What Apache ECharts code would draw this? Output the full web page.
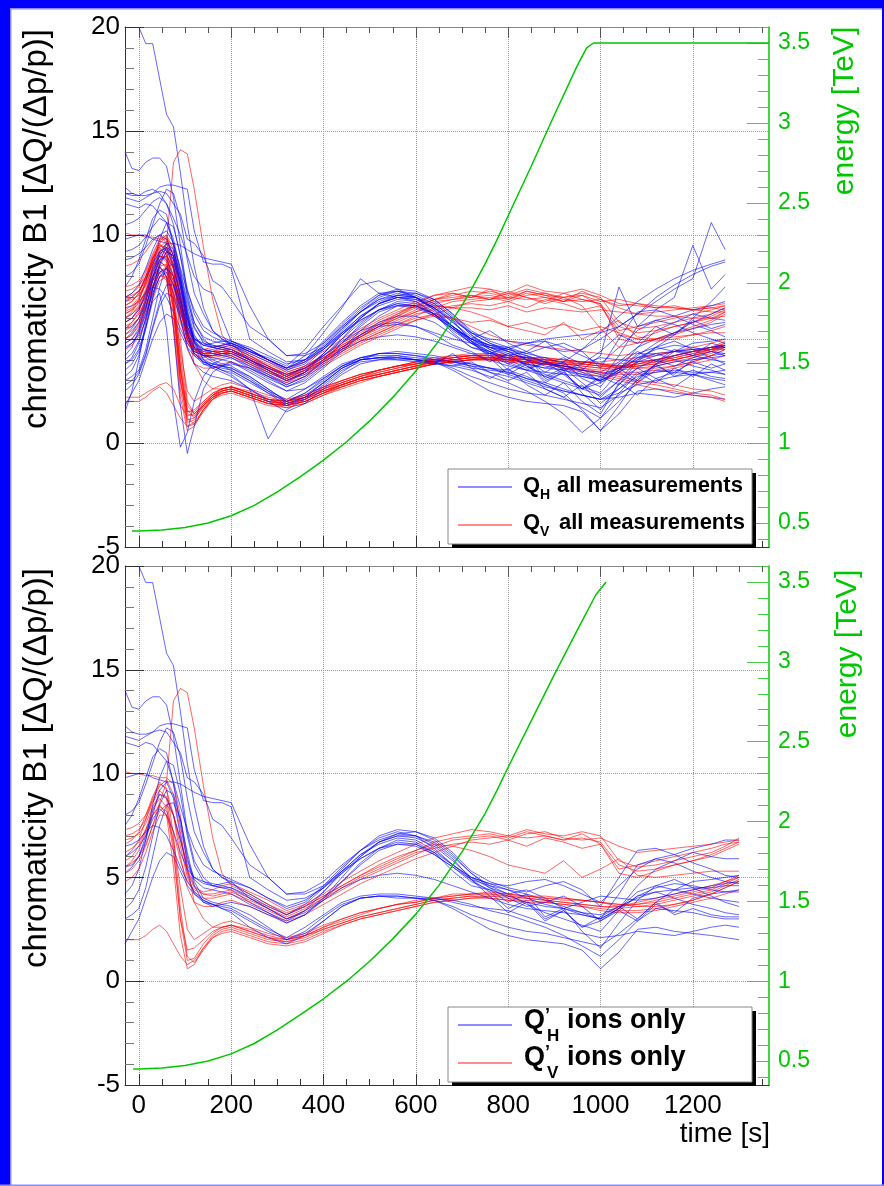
<!DOCTYPE html>
<html><head><meta charset="utf-8">
<script src="https://cdn.jsdelivr.net/npm/echarts@6/dist/echarts.min.js"></script>
<style>html,body{margin:0;padding:0;background:#fff}#c{width:884px;height:1186px}</style>
</head><body><div id="c"></div>
<script>
// ---------------- DATA ----------------
// common time grid [s]
const T = [-30,-15,0,15,30,45,60,75,90,105,120,140,160,180,200,
  240,280,320,360,400,440,480,520,560,600,640,680,720,760,800,840,880,920,960,1000,1040,1080,1120,1160,1200,1240,1270,1300];

// ion fills (shown in both panels) - horizontal chromaticity
const ionsQH = [
 [null,null,20,19.2,19.2,17.5,15.8,15.2,13.0,10.5,8.5,6.5,5.4,5.0,4.7, 4.2,3.7,3.2,3.6,4.3,5.2,6.0,6.7,7.0,6.9,6.5,5.8,5.0,4.5,4.2,3.7,3.3,3.0,2.7,2.4,3.4,4.1,4.3,4.0,3.7,3.5,3.3,3.2],
 [14.0,13.2,13.1,13.5,13.7,13.7,13.3,11.8,9.5,7.2,5.8,5.0,4.6,4.5,4.5, 4.0,3.5,3.0,3.4,4.0,4.8,5.7,6.4,6.8,6.7,6.2,5.3,4.6,4.4,3.8,4.2,3.1,3.5,2.4,1.6,2.8,3.9,4.6,4.9,4.5,4.1,3.8,3.6],
 [11.8,11.7,11.6,11.8,12.0,12.3,12.4,12.4,12.3,12.2,10.2,8.7,8.6,8.6,8.4, 5.0,4.4,3.9,4.0,4.5,5.3,6.1,6.6,6.9,6.8,6.3,5.6,4.9,4.6,4.4,4.2,3.9,3.6,3.3,3.0,3.5,4.3,4.6,4.4,4.2,4.0,3.9,3.8],
 [12.3,12.0,11.9,11.9,12.0,12.1,12.0,11.5,11.0,9.8,9.6,9.0,7.8,7.5,6.9, 5.6,5.0,4.2,4.3,4.8,5.6,6.3,6.9,7.2,7.0,6.4,5.6,5.0,4.7,4.6,4.8,4.9,4.6,4.2,3.8,4.6,5.4,5.9,6.1,6.4,6.6,6.8,6.8],
 [7.5,8.0,8.8,9.8,10.8,11.2,11.0,9.5,7.5,5.8,5.0,4.7,4.6,4.5,4.4, 3.8,3.3,2.8,3.2,3.9,4.8,5.6,6.3,6.6,6.6,6.1,5.5,4.9,4.3,3.5,3.9,3.0,3.4,2.6,2.9,3.4,2.9,3.7,3.3,4.0,4.2,4.3,4.4],
 [5.2,5.5,6.0,6.8,8.0,9.2,9.6,8.8,7.0,5.2,4.2,3.8,3.7,3.6,3.5, 3.0,2.5,2.1,2.6,3.2,3.8,4.1,4.2,4.2,4.1,4.0,3.8,3.6,3.5,3.4,3.1,2.8,2.5,2.3,2.1,2.2,2.4,2.3,2.2,2.4,2.6,2.7,2.6],
 [3.0,3.2,3.5,4.5,6.0,7.5,8.5,8.6,7.8,6.2,4.8,4.0,3.8,3.7,3.6, 3.2,2.6,2.0,2.3,2.9,3.6,4.0,4.1,4.1,4.0,4.0,3.9,3.7,3.4,3.2,2.9,2.6,2.2,1.7,1.2,2.0,2.9,3.5,3.4,3.3,3.1,3.0,3.0],
 [6.0,6.2,6.5,7.0,7.8,8.3,8.0,7.2,6.2,5.4,5.0,4.8,4.7,4.6,4.5, 4.1,3.6,3.2,3.7,4.5,5.4,6.3,7.0,7.3,7.2,6.8,6.1,5.2,4.6,4.2,4.4,4.0,3.5,3.2,3.0,4.2,5.6,5.9,5.7,5.3,5.0,4.8,4.7],
 [1.8,2.4,3.0,4.0,5.0,5.8,6.2,6.0,5.3,4.6,4.2,3.9,3.7,3.5,3.3, 2.6,2.1,1.8,2.2,2.9,3.6,4.0,4.1,4.0,4.0,3.9,3.6,3.2,2.9,2.6,2.4,2.3,2.1,1.9,1.7,2.3,3.0,3.8,4.4,4.8,4.9,5.0,5.1],
 [5.5,5.6,6.0,7.0,8.2,9.0,8.8,8.0,6.8,5.6,4.9,4.5,4.4,4.3,4.2, 3.7,3.3,2.9,3.4,4.3,5.3,6.1,6.7,7.0,7.0,6.7,6.0,5.2,4.5,4.0,3.6,3.8,4.1,3.6,2.9,3.5,4.6,5.4,5.8,6.2,6.0,5.9,5.9],
 [4.2,4.6,5.4,6.8,8.5,9.8,10.6,10.4,9.0,7.0,5.6,4.8,4.6,4.7,4.8, 4.5,4.0,3.5,3.8,4.6,5.5,6.3,6.8,7.1,7.0,6.6,5.9,4.9,4.1,3.3,3.8,2.9,3.4,2.6,3.1,3.6,3.0,3.8,3.2,3.5,3.2,3.1,3.1],
 [8.0,8.2,8.6,9.5,10.5,11.5,12.2,12.0,10.8,8.8,7.2,6.2,5.4,5.0,4.8, 4.0,3.5,3.0,3.3,3.9,4.5,4.9,5.1,5.2,5.1,4.9,4.6,4.3,4.0,3.7,3.5,3.4,3.3,3.2,3.0,3.5,4.1,4.5,4.7,4.6,4.4,4.3,4.3],
 [6.5,6.6,6.8,7.2,7.5,7.4,7.0,6.3,5.5,4.8,4.3,3.9,3.7,3.5,3.4, 2.9,2.4,2.0,2.4,3.1,3.7,4.0,4.1,4.1,4.0,3.9,3.5,3.0,2.5,2.2,2.0,1.9,1.8,1.5,0.6,1.4,2.5,2.6,2.4,2.3,2.2,2.1,2.0],
 [3.5,3.8,4.4,5.5,7.0,8.5,9.2,9.0,7.8,6.0,4.6,3.8,3.6,3.7,3.8, 3.6,3.2,2.8,3.2,4.0,5.0,6.0,6.7,7.1,7.2,6.9,6.2,5.3,4.8,4.5,4.3,4.6,4.8,4.4,3.6,5.0,6.3,6.4,6.1,5.7,5.4,5.1,5.0],
 [11.5,11.4,11.3,11.5,11.4,11.0,10.6,9.6,8.4,7.3,6.4,5.6,5.3,5.1,4.9, 4.5,4.0,3.6,3.9,4.5,5.2,5.9,6.4,6.7,6.6,6.2,5.6,5.0,4.7,4.4,4.0,3.7,3.5,3.8,4.1,4.0,3.9,4.0,4.2,4.4,4.6,4.7,4.8],
 [9.8,9.9,10.0,10.0,9.8,9.7,9.6,9.6,9.5,9.3,9.1,8.9,8.8,8.7,8.6, 6.6,5.0,4.2,4.2,4.6,5.3,5.9,6.4,6.6,6.5,6.1,5.5,4.8,4.4,4.1,3.8,3.6,3.5,3.3,3.2,3.6,4.0,4.3,4.4,4.5,4.5,4.6,4.6]
];
// ion fills - vertical chromaticity
const ionsQV = [
 [10.1,10.0,10.0,9.9,9.9,9.8,9.8,9.5,8.0,5.5,3.8,3.0,2.6,2.6,2.7, 2.5,2.2,2.0,2.2,2.5,2.8,3.1,3.3,3.5,3.7,3.9,4.0,4.1,4.1,4.1,4.0,3.9,3.8,3.7,3.6,3.6,3.8,4.0,4.2,4.4,4.6,4.8,5.0],
 [5.5,5.7,6.0,6.6,7.5,8.6,9.6,13.5,14.1,13.9,12.2,9.4,6.9,5.2,4.6, 4.2,3.7,3.3,3.6,4.1,4.6,5.1,5.5,5.9,6.3,6.7,6.9,7.0,7.1,6.9,7.2,7.0,6.8,7.1,6.6,5.4,5.6,5.8,6.0,6.2,6.4,6.6,6.7],
 [6.0,6.3,6.8,7.8,8.8,9.5,9.3,7.0,3.5,1.2,0.9,1.5,2.1,2.4,2.5, 2.2,1.9,1.8,2.0,2.4,2.7,3.0,3.2,3.4,3.6,3.8,3.9,4.0,4.1,4.0,4.0,3.9,3.8,3.7,3.6,3.5,3.6,3.7,3.9,4.1,4.3,4.6,4.9],
 [5.5,5.8,6.3,7.2,8.0,8.5,8.0,5.5,2.2,0.6,0.8,1.6,2.2,2.5,2.6, 2.3,2.0,1.9,2.1,2.5,2.8,3.1,3.3,3.5,3.7,3.9,4.0,4.1,4.0,3.9,3.8,3.8,3.7,3.6,3.4,3.3,3.3,3.4,3.6,3.8,4.0,4.2,4.4],
 [7.0,7.1,7.3,7.8,8.6,9.2,8.8,6.5,3.0,1.0,1.1,1.8,2.3,2.6,2.7, 2.4,2.1,1.9,2.2,2.6,2.9,3.2,3.5,3.7,3.9,4.0,4.2,4.2,4.3,4.2,4.1,4.0,4.0,3.9,3.8,3.6,3.7,3.9,4.1,4.3,4.5,4.8,5.1],
 [2.0,2.0,2.0,2.2,2.5,2.7,2.4,1.8,1.2,0.8,1.0,1.6,2.1,2.3,2.4, 2.1,1.8,1.7,1.9,2.3,2.7,3.0,3.2,3.4,3.6,3.8,3.9,4.0,4.0,3.9,3.9,3.8,3.7,3.6,3.5,3.4,3.4,3.5,3.7,3.9,4.2,4.5,4.8],
 [6.8,6.9,7.1,7.6,8.4,9.0,8.9,8.0,6.5,5.0,4.3,4.0,4.0,4.1,4.2, 3.8,3.4,3.0,3.4,3.9,4.4,4.9,5.3,5.7,6.1,6.5,6.8,6.9,7.0,6.8,7.1,7.2,6.9,6.8,6.9,6.5,6.2,6.3,6.4,6.5,6.6,6.7,6.8],
 [5.2,5.4,5.8,6.5,7.5,8.2,8.5,8.0,6.8,5.4,4.6,4.2,4.1,4.2,4.3, 3.9,3.5,3.1,3.5,4.0,4.5,5.0,5.4,5.8,6.2,6.4,6.6,6.7,6.6,6.8,6.5,6.9,6.7,6.4,6.6,5.2,5.0,5.3,5.6,5.8,6.0,6.3,6.6],
 [6.2,6.4,6.7,7.3,8.0,8.4,8.2,7.2,5.8,4.8,4.4,4.2,4.2,4.3,4.4, 4.0,3.6,3.2,3.6,4.1,4.6,5.1,5.6,6.0,6.3,6.6,6.5,6.3,6.0,5.6,5.4,5.2,5.8,5.0,5.4,5.9,5.1,5.0,5.1,5.2,5.3,5.3,5.3],
 [7.3,7.4,7.6,8.0,8.7,9.4,9.7,9.0,7.2,5.3,4.5,4.3,4.4,4.6,4.7, 4.3,3.9,3.4,3.7,4.2,4.8,5.3,5.8,6.2,6.6,6.9,7.1,7.3,7.2,7.0,7.3,7.1,7.0,7.2,7.0,5.8,5.5,5.6,5.8,6.0,6.2,6.5,6.9],
 [5.8,6.0,6.5,7.3,8.3,8.8,8.4,6.2,3.0,1.5,1.6,2.0,2.4,2.6,2.7, 2.4,2.1,2.0,2.2,2.6,3.0,3.3,3.5,3.7,3.8,4.0,4.1,4.2,4.2,4.1,4.1,4.0,3.9,3.9,3.8,3.7,3.6,3.6,3.7,3.9,4.2,4.5,4.8],
 [6.6,6.8,7.2,8.0,8.9,9.6,9.2,8.0,6.0,4.5,3.8,3.6,3.6,3.8,3.9, 3.6,3.2,2.9,3.2,3.7,4.2,4.7,5.1,5.5,5.9,6.2,6.5,6.8,6.9,7.0,6.9,7.0,6.8,6.9,6.7,5.6,5.3,5.4,5.6,5.8,6.1,6.4,6.7],
 [4.8,5.0,5.4,6.2,7.2,8.0,8.0,6.8,4.5,2.5,2.0,2.3,2.6,2.8,2.9, 2.6,2.3,2.1,2.3,2.7,3.0,3.3,3.5,3.7,3.8,4.0,4.1,4.2,4.2,4.2,4.1,4.1,4.0,3.9,3.8,3.7,3.7,3.8,4.0,4.2,4.4,4.7,5.0]
];
// other fills (only in "all measurements") - horizontal
const otherQH = [
 [3.2,3.5,4.2,5.5,6.8,7.2,5.5,2.0,-0.2,0.5,2.0,3.2,3.8,4.0,4.1, 3.7,3.2,2.7,3.0,3.7,4.5,5.4,6.1,6.6,6.6,6.2,5.5,4.8,4.2,3.8,3.5,3.2,2.9,2.6,2.3,3.0,4.0,4.6,5.2,6.0,6.8,7.5,null],
 [1.5,2.5,4.0,5.8,7.5,8.5,8.0,5.5,1.8,-0.5,0.8,2.6,3.4,3.7,3.9, 3.5,3.0,2.5,2.6,3.1,3.7,4.1,4.3,4.3,4.2,4.1,3.9,3.7,3.6,3.5,3.2,2.8,2.4,1.6,0.6,1.8,3.1,3.8,4.2,4.4,4.6,4.7,null],
 [4.5,4.8,5.2,6.2,7.4,8.2,8.4,7.6,6.0,4.6,3.8,3.4,3.2,3.1,3.0, 2.6,0.2,1.6,2.1,2.7,3.4,4.0,4.3,4.4,4.3,4.2,4.0,3.8,3.6,3.3,3.0,2.7,2.5,2.3,2.1,2.4,2.8,3.0,3.2,3.3,3.4,3.5,null],
 [5.0,5.3,5.8,6.8,8.0,8.8,9.0,8.4,7.2,5.8,5.0,4.7,4.8,4.9,4.9, 4.5,4.0,3.6,4.2,5.3,6.5,7.9,7.2,7.0,6.8,6.2,5.4,4.8,4.6,4.5,4.8,5.0,5.1,5.2,5.3,5.6,6.2,7.0,7.6,8.1,8.5,8.7,null],
 [7.0,7.2,7.6,8.4,9.3,10.0,10.2,9.6,8.2,6.6,5.5,4.9,4.7,4.6,4.5, 4.0,3.5,3.1,3.5,4.3,5.2,6.0,6.7,7.0,6.9,6.5,5.9,5.3,5.0,4.9,4.8,4.6,4.4,4.5,5.0,5.6,6.2,6.8,7.4,7.9,10.6,9.3,null],
 [4.0,4.3,4.9,6.0,7.2,8.0,8.2,7.6,6.4,5.2,4.5,4.2,4.1,4.0,3.9, 3.4,2.9,2.5,2.9,3.6,4.4,5.2,5.8,6.1,6.1,5.8,5.2,4.6,4.3,4.1,3.8,3.6,3.9,4.5,5.3,6.1,6.8,7.4,7.9,8.3,8.6,8.8,null],
 [2.5,2.8,3.3,4.2,5.5,6.6,7.2,7.0,6.0,5.0,4.4,4.2,4.2,4.3,4.3, 3.9,3.4,3.0,3.4,4.2,5.0,5.8,6.4,6.7,6.6,6.2,5.6,5.0,4.6,4.3,4.1,3.9,3.6,3.5,4.2,7.5,5.6,6.4,7.0,9.5,7.4,8.1,null],
 [8.8,8.9,9.1,9.4,9.8,10.0,9.8,9.0,7.6,6.0,4.9,4.2,3.9,3.7,3.5, 3.0,2.4,1.8,2.1,2.8,3.5,3.9,4.0,4.0,3.9,3.8,3.7,3.5,3.2,2.9,2.5,2.0,1.4,0.5,1.2,2.4,3.3,3.7,3.9,4.0,4.1,4.2,null],
 [6.8,7.0,7.3,7.9,8.6,9.2,9.4,8.8,7.5,6.0,5.1,4.7,4.6,4.7,4.8, 4.4,4.0,3.6,4.0,4.8,5.7,6.5,7.1,7.3,7.1,6.7,6.0,5.3,4.8,4.4,4.0,3.8,3.7,3.5,3.4,3.9,4.6,5.0,5.3,5.5,5.7,5.8,null],
 [9.2,9.3,9.5,9.9,10.4,10.8,10.6,9.8,8.3,6.8,5.8,5.1,4.9,4.8,4.7, 4.3,3.9,3.5,3.9,4.7,5.6,6.4,7.1,7.4,7.3,6.9,6.2,5.4,4.9,4.6,4.3,4.1,3.8,3.4,3.0,3.4,3.9,4.2,4.4,4.5,4.6,4.6,null],
 [4.8,5.0,5.5,6.5,7.8,8.8,9.4,9.2,8.0,6.3,5.0,4.3,4.0,3.8,3.7, 3.2,2.6,2.0,2.4,3.0,3.7,4.1,4.3,4.3,4.2,4.0,3.9,3.8,3.6,3.4,3.1,2.9,2.6,2.3,2.1,2.6,3.2,3.4,3.5,3.4,3.4,3.3,null],
 [12.0,11.9,11.9,12.1,12.2,12.0,11.5,10.8,10.0,9.0,8.0,7.4,7.2,6.0,4.9, 4.6,4.2,3.8,4.0,4.6,5.5,6.3,6.9,7.1,7.0,6.5,5.8,5.1,4.7,4.5,4.2,3.9,3.7,3.5,3.3,3.6,4.2,4.8,5.3,5.8,6.2,6.5,null],
 [5.8,6.0,6.4,7.2,8.3,9.1,9.3,8.5,7.0,5.6,4.8,4.5,4.4,4.4,4.4, 4.0,3.6,3.3,3.6,4.2,4.9,5.4,5.7,5.8,5.6,5.3,5.0,4.8,4.3,4.6,4.0,3.4,3.9,3.1,2.7,3.8,4.4,3.9,4.5,4.2,4.8,4.6,null],
 [3.8,4.0,4.5,5.6,7.0,8.0,8.4,8.0,6.8,5.4,4.6,4.4,4.5,4.6,4.7, 4.4,4.1,3.7,4.5,5.6,6.6,7.6,7.8,7.4,7.0,6.5,5.6,4.9,4.4,3.9,3.5,3.9,3.3,2.6,3.2,2.8,3.6,3.1,3.4,3.9,3.6,3.8,null],
 [2.8,3.0,3.4,4.3,5.6,6.8,7.6,7.6,6.6,5.2,4.3,3.9,3.8,3.7,3.6, 3.1,2.5,1.9,2.2,2.9,3.6,4.0,4.1,4.2,4.0,3.8,4.3,3.6,3.1,3.6,2.8,2.3,2.9,2.0,1.4,2.9,2.3,3.1,2.7,3.3,3.0,2.8,null],
 [10.5,10.6,10.8,11.2,11.6,11.8,11.5,10.5,9.0,7.4,6.2,5.4,5.1,4.9,4.8, 4.4,4.0,3.6,4.0,4.9,5.8,6.6,7.2,7.3,7.0,6.4,5.5,5.0,5.4,4.8,4.4,4.9,4.2,3.8,4.4,5.2,4.8,5.6,5.2,5.9,5.5,5.7,null],
 [4.6,4.8,5.3,6.4,7.9,9.0,9.6,9.3,8.0,6.4,5.2,4.5,4.3,4.2,4.1, 3.6,3.1,2.7,3.1,3.8,4.6,5.2,5.6,5.7,5.6,5.2,4.7,4.4,3.9,4.3,3.7,3.2,3.6,2.9,2.2,3.0,3.6,4.0,3.7,4.1,4.4,4.2,null],
 [3.8,4.1,4.8,6.0,7.4,8.6,9.2,9.0,7.8,6.2,4.9,4.0,3.6,3.4,3.2, 2.6,2.0,1.5,1.9,2.6,3.3,3.8,4.0,4.1,4.0,3.9,3.7,3.9,3.4,3.0,3.4,2.6,2.2,2.8,1.9,2.6,3.4,2.9,3.6,3.2,3.8,3.5,null]
];
// other fills - vertical
const otherQV = [
 [2.2,2.2,2.2,2.4,2.6,2.8,2.9,2.6,1.8,1.3,1.4,1.9,2.3,2.5,2.6, 2.3,2.0,1.8,2.0,2.4,2.7,3.0,3.2,3.4,3.6,3.8,3.9,4.0,4.0,4.0,3.9,3.8,3.6,3.4,3.2,3.0,2.8,2.6,2.5,2.3,2.2,2.0,null],
 [6.2,6.4,6.9,7.6,8.5,9.0,8.7,6.5,3.0,1.1,1.2,1.9,2.3,2.5,2.6, 2.3,2.0,1.9,2.1,2.5,2.8,3.1,3.4,3.6,3.8,3.9,4.0,4.1,4.1,4.0,3.9,3.8,3.7,3.5,3.4,3.2,3.0,2.9,2.8,2.6,2.5,2.3,null],
 [7.0,7.2,7.5,8.2,9.0,9.7,10.0,9.3,7.5,5.6,4.7,4.3,4.3,4.4,4.5, 4.1,3.7,3.3,3.6,4.1,4.7,5.2,5.7,6.2,6.7,7.1,7.3,7.5,7.4,7.2,7.6,7.3,7.2,7.4,7.1,6.7,6.6,6.5,6.5,6.4,6.5,6.6,null],
 [5.6,5.8,6.2,6.9,7.8,8.5,8.6,7.8,6.3,5.0,4.4,4.2,4.2,4.3,4.4, 4.0,3.6,3.2,3.5,4.0,4.5,5.1,5.6,6.1,6.6,6.9,7.0,7.1,6.9,7.3,7.0,6.8,7.2,6.9,6.7,5.0,4.8,5.0,5.2,5.5,5.8,6.2,null],
 [6.4,6.6,7.0,7.8,8.8,9.6,9.9,9.0,7.0,5.2,4.5,4.3,4.4,4.5,4.6, 4.2,3.8,3.4,3.7,4.2,4.8,5.4,5.9,6.3,6.6,6.6,6.5,6.5,6.4,6.6,6.3,6.5,6.4,6.3,6.4,6.3,6.2,6.1,6.1,6.0,6.0,6.1,null],
 [5.0,5.2,5.7,6.6,7.6,8.2,7.8,5.8,2.6,0.8,0.9,1.6,2.1,2.4,2.5, 2.2,1.9,1.7,1.9,2.3,2.6,2.9,3.2,3.4,3.6,3.8,3.9,4.0,4.1,4.1,4.0,4.0,3.9,3.9,3.8,3.8,3.9,4.0,4.1,4.3,4.5,4.7,null],
 [7.5,7.6,7.8,8.3,9.1,9.8,10.0,8.5,5.0,2.0,1.4,1.8,2.3,2.6,2.7, 2.4,2.1,2.0,2.3,2.7,3.0,3.3,3.5,3.7,3.9,4.1,4.2,4.3,4.3,4.2,4.1,4.1,4.0,3.9,3.9,4.0,4.1,4.2,4.4,4.6,4.8,5.0,null],
 [5.8,6.0,6.4,7.1,8.0,8.8,9.0,8.4,7.0,5.6,4.8,4.4,4.3,4.3,4.3, 3.9,3.5,3.1,3.4,3.9,4.4,4.9,5.3,5.7,6.0,6.2,6.0,5.6,5.2,4.9,4.7,4.6,4.5,4.4,4.3,4.2,4.3,4.3,4.4,4.4,4.5,4.5,null],
 [4.5,4.7,5.1,5.9,6.9,7.8,8.0,6.5,3.5,1.4,1.3,1.8,2.2,2.4,2.5, 2.2,1.9,1.8,2.0,2.4,2.8,3.1,3.3,3.5,3.7,3.8,3.9,4.0,4.0,4.0,3.9,3.9,3.8,3.8,3.7,3.7,3.8,3.9,4.0,4.2,4.4,4.6,null],
 [8.5,8.6,8.8,9.2,9.7,10.0,9.6,8.4,6.5,5.0,4.5,4.5,4.6,4.7,4.8, 4.4,4.0,3.6,3.9,4.4,5.0,5.5,6.0,6.4,6.8,7.1,7.2,7.0,7.3,7.1,7.4,7.2,7.0,7.1,6.8,6.9,6.7,6.6,6.5,6.4,6.3,6.3,null],
 [6.0,6.2,6.6,7.4,8.4,9.2,9.4,8.6,6.8,5.2,4.5,4.3,4.3,4.4,4.5, 4.1,3.7,3.3,3.6,4.1,4.7,5.2,5.7,6.1,6.5,6.9,7.2,7.0,7.4,6.9,7.3,7.1,6.8,7.3,6.9,6.6,6.7,6.5,6.6,6.4,6.5,6.4,null],
 [5.4,5.6,6.0,6.9,8.0,8.7,8.5,6.8,3.8,1.6,1.2,1.7,2.2,2.5,2.6, 2.3,2.0,1.9,2.1,2.5,2.9,3.2,3.4,3.6,3.8,3.9,4.1,4.2,4.2,4.1,4.0,4.0,3.9,3.8,3.7,3.6,3.7,3.8,4.0,4.2,4.5,4.7,null],
 [6.9,7.0,7.3,8.0,8.9,9.5,9.4,8.3,6.4,4.9,4.3,4.1,4.2,4.3,4.4, 4.0,3.6,3.2,3.5,4.0,4.6,5.1,5.6,6.0,6.4,6.8,6.9,7.1,6.9,7.2,7.0,6.7,7.0,6.6,5.5,4.6,4.8,5.0,5.3,5.6,5.9,6.3,null],
 [6.6,6.8,7.2,8.0,8.9,9.4,9.0,7.0,3.6,1.5,1.5,2.0,2.4,2.6,2.7, 2.4,2.1,2.0,2.2,2.6,2.9,3.2,3.5,3.7,3.9,4.0,4.1,4.2,4.1,4.0,3.9,3.8,3.6,3.5,3.3,3.1,2.9,2.8,2.6,2.4,2.3,2.1,null],
 [5.0,5.2,5.6,6.4,7.4,8.2,8.4,7.8,6.6,5.3,4.6,4.3,4.2,4.2,4.2, 3.8,3.4,3.0,3.3,3.8,4.3,4.8,5.2,5.6,5.9,6.1,6.0,5.8,5.9,5.6,5.8,5.5,5.7,5.4,5.6,5.3,5.0,4.9,5.0,5.2,5.4,5.6,null],
 [6.3,6.5,6.9,7.7,8.7,9.3,9.1,7.5,4.2,1.8,1.4,1.8,2.2,2.4,2.5, 2.2,1.9,1.8,2.0,2.4,2.8,3.1,3.3,3.5,3.7,3.9,4.0,4.1,4.1,4.0,3.9,3.9,3.8,3.8,3.7,3.7,3.8,4.0,4.2,4.4,4.6,4.9,null]
];
// beam energy ramp [s] / [TeV]
const energyTopT = [-15,0,50,100,150,200,250,300,350,400,450,500,550,600,650,700,725,750,775,800,850,900,950,970,985,1365];
const energyTopE = [0.45,0.45,0.456,0.472,0.50,0.545,0.61,0.695,0.79,0.893,1.008,1.138,1.285,1.45,1.64,1.86,1.985,2.12,2.265,2.42,2.73,3.05,3.36,3.47,3.5,3.5];
const energyBotT = [-12,0,50,100,150,200,250,300,350,400,450,500,550,600,650,700,750,775,800,850,900,950,990,1012];
const energyBotE = [0.45,0.45,0.456,0.472,0.50,0.545,0.61,0.695,0.79,0.89,1.0,1.125,1.265,1.42,1.60,1.81,2.05,2.19,2.34,2.63,2.92,3.20,3.42,3.5];
// tick labels
const timeTicks = [0,200,400,600,800,1000,1200];
const energyTicks = [0.5,1,1.5,2,2.5,3,3.5];

// ---------------- CHART ----------------
[ionsQH, ionsQV, otherQH, otherQV].forEach((g, gi) => g.forEach((a, i) => { if (a.length !== T.length) console.error('len', gi, i, a.length); }));

const FONT = '"Liberation Sans", Arial, Helvetica, sans-serif';
const GREEN = '#00c800';
const GREEN_T = '#44cc44';
const BLUE = 'rgba(0,0,255,0.6)';
const RED = 'rgba(255,0,0,0.6)';
const X_MIN = -30, X_MAX = 1365;

const minorT = []; for (let k = 0; k <= 27; k++) minorT.push(k * 50);
const minorE = []; for (let k = 4; k <= 36; k++) if (k % 5 !== 0) minorE.push(k / 10);

function xAxes(g, showLabels) {
  const base = {type:'value', gridIndex:g, min:X_MIN, max:X_MAX, axisLabel:{show:false}, splitLine:{show:false}, minorTick:{show:false}, axisPointer:{show:false}};
  return [
    Object.assign({}, base, {position:'bottom',
      axisLine:{show:true, onZero:false, lineStyle:{color:'#333'}},
      axisTick:{show:true, inside:true, length:11, customValues:timeTicks, lineStyle:{color:'#333'}},
      axisLabel: showLabels ? {show:true, customValues:timeTicks, fontSize:26, fontFamily:FONT, color:'#000', margin:8, formatter: v => String(v)} : {show:false},
      splitLine:{show:true, lineStyle:{type:'dotted', color:'#999', width:1}}}),
    Object.assign({}, base, {position:'bottom',
      axisLine:{show:false, onZero:false},
      axisTick:{show:true, inside:true, length:6, customValues:minorT, lineStyle:{color:'#333'}}}),
    Object.assign({}, base, {position:'top',
      axisLine:{show:true, onZero:false, lineStyle:{color:'#888'}},
      axisTick:{show:true, inside:true, length:11, customValues:timeTicks, lineStyle:{color:'#555'}}}),
    Object.assign({}, base, {position:'top',
      axisLine:{show:false, onZero:false},
      axisTick:{show:true, inside:true, length:6, customValues:minorT, lineStyle:{color:'#555'}}})
  ];
}
function yAxes(g) {
  return [
    {type:'value', gridIndex:g, position:'left', min:-5, max:20, interval:5,
      axisLine:{show:true, onZero:false, lineStyle:{color:'#333'}},
      axisTick:{show:true, inside:true, length:19, lineStyle:{color:'#333'}},
      minorTick:{show:true, splitNumber:5, length:9, lineStyle:{color:'#777'}},
      axisLabel:{fontSize:26, fontFamily:FONT, color:'#000', margin:5},
      splitLine:{show:true, lineStyle:{type:'dotted', color:'#999', width:1}}},
    {type:'value', gridIndex:g, position:'right', min:0.35, max:3.6,
      axisLine:{show:true, onZero:false, lineStyle:{color:GREEN, width:1.5}},
      axisTick:{show:true, inside:true, length:22, customValues:energyTicks, lineStyle:{color:GREEN_T}},
      axisLabel:{show:true, customValues:energyTicks, fontSize:23, fontFamily:FONT, color:GREEN, margin:9},
      splitLine:{show:false}},
    {type:'value', gridIndex:g, position:'right', min:0.35, max:3.6,
      axisLine:{show:false, onZero:false},
      axisTick:{show:true, inside:true, length:11, customValues:minorE, lineStyle:{color:GREEN_T}},
      axisLabel:{show:false}, splitLine:{show:false}}
  ];
}

function lineSeries(arr, g, color, name, lastIdx) {
  const data = [];
  for (let i = 0; i <= lastIdx; i++) if (arr[i] != null) data.push([T[i], arr[i]]);
  return {type:'line', name, xAxisIndex:4*g, yAxisIndex:3*g, data, symbol:'none', showSymbol:false,
    lineStyle:{width:1, color}, itemStyle:{color}, silent:true, animation:false, z:2, clip:true};
}
function energySeries(ts, es, g) {
  return {type:'line', name:'energy', xAxisIndex:4*g, yAxisIndex:3*g+1, data: ts.map((t,i)=>[t, es[i]]),
    symbol:'none', smooth:false, lineStyle:{width:1.5, color:GREEN}, itemStyle:{color:GREEN}, silent:true, animation:false, z:5};
}

const series = [];
// top panel: all measurements
const topH = ionsQH.concat(otherQH), topV = ionsQV.concat(otherQV);
const nTop = Math.max(topH.length, topV.length);
for (let i = 0; i < nTop; i++) {
  if (topH[i]) series.push(lineSeries(topH[i], 0, BLUE, 'QH all', 41));
  if (topV[i]) series.push(lineSeries(topV[i], 0, RED, 'QV all', 41));
}
series.push(energySeries(energyTopT, energyTopE, 0));
// bottom panel: ions only
const nBot = Math.max(ionsQH.length, ionsQV.length);
for (let i = 0; i < nBot; i++) {
  if (ionsQH[i]) series.push(lineSeries(ionsQH[i], 1, BLUE, 'QH ions', 42));
  if (ionsQV[i]) series.push(lineSeries(ionsQV[i], 1, RED, 'QV ions', 42));
}
series.push(energySeries(energyBotT, energyBotE, 1));

function txt(x, y, text, font, fill, align, rot) {
  return {type:'text', x, y, rotation: rot || 0, silent:true, z:100,
    style:{text, font, fill, align: align || 'left', verticalAlign:'middle', textAlign: align || 'left', textVerticalAlign:'middle'}};
}
function legendBox(y0, h) {
  return [
    {type:'rect', shape:{x:452, y:y0+4, width:304, height:h}, style:{fill:'#000'}, silent:true, z:90},
    {type:'rect', shape:{x:448, y:y0, width:304, height:h}, style:{fill:'#fff', stroke:'#888', lineWidth:1}, silent:true, z:91}
  ];
}
function legLine(y, color) {
  return {type:'line', shape:{x1:458, y1:y, x2:512, y2:y}, style:{stroke:color, lineWidth:1.3}, silent:true, z:95};
}
const B22 = 'bold 22px ' + FONT, B14 = 'bold 14px ' + FONT, B27 = 'bold 27px ' + FONT, B17 = 'bold 17px ' + FONT;

const graphic = [
  // canvas border
  {type:'rect', shape:{x:0, y:0, width:10, height:1186}, style:{fill:'#0000ff'}, silent:true, z:200},
  {type:'rect', shape:{x:0, y:0, width:884, height:8}, style:{fill:'#0000ff'}, silent:true, z:200},
  {type:'rect', shape:{x:10, y:8, width:1.5, height:1178}, style:{fill:'#8c8cff'}, silent:true, z:200},
  {type:'rect', shape:{x:10, y:8, width:874, height:1.5}, style:{fill:'#8c8cff'}, silent:true, z:200},
  {type:'rect', shape:{x:882, y:0, width:2, height:1186}, style:{fill:'#0000ff'}, silent:true, z:200},
  {type:'rect', shape:{x:0, y:1184.5, width:884, height:1.5}, style:{fill:'#8c8cff'}, silent:true, z:200},
  // axis titles
  txt(37, 229, 'chromaticity B1 [ΔQ/(Δp/p)]', '33px ' + FONT, '#000', 'center', Math.PI/2),
  txt(37, 768, 'chromaticity B1 [ΔQ/(Δp/p)]', '33px ' + FONT, '#000', 'center', Math.PI/2),
  txt(845, 111, 'energy [TeV]', '30px ' + FONT, GREEN, 'center', Math.PI/2),
  txt(848, 654, 'energy [TeV]', '30px ' + FONT, GREEN, 'center', Math.PI/2),
  txt(770, 1134, 'time [s]', '28px ' + FONT, '#000', 'right'),
  // top legend
  ...legendBox(469, 75),
  legLine(487, BLUE), legLine(525, RED),
  txt(523, 486, 'Q', B22, '#000'), txt(540, 495, 'H', B14, '#000'), txt(557, 486, 'all measurements', B22, '#000'),
  txt(523, 523, 'Q', B22, '#000'), txt(540, 532, 'V', B14, '#000'), txt(559, 523, 'all measurements', B22, '#000'),
  // bottom legend
  ...legendBox(1007, 75),
  legLine(1025, BLUE), legLine(1063, RED),
  txt(524, 1021, 'Q', B27, '#000'), txt(545, 1016, '’', 'bold 18px ' + FONT, '#000'), txt(547, 1036, 'H', B17, '#000'), txt(567, 1021, 'ions only', B27, '#000'),
  txt(524, 1058, 'Q', B27, '#000'), txt(545, 1053, '’', 'bold 18px ' + FONT, '#000'), txt(547, 1073, 'V', B17, '#000'), txt(567, 1058, 'ions only', B27, '#000')
];

const chart = echarts.init(document.getElementById('c'), null, {renderer:'canvas', width:884, height:1186});
chart.setOption({
  backgroundColor:'#fff',
  animation:false,
  grid:[
    {left:125, top:27, width:644, height:520, containLabel:false, outerBoundsMode:'none'},
    {left:125, top:566, width:644, height:519, containLabel:false, outerBoundsMode:'none'}
  ],
  xAxis: xAxes(0, false).concat(xAxes(1, true)),
  yAxis: yAxes(0).concat(yAxes(1)),
  series,
  graphic
});
</script>
</body></html>
